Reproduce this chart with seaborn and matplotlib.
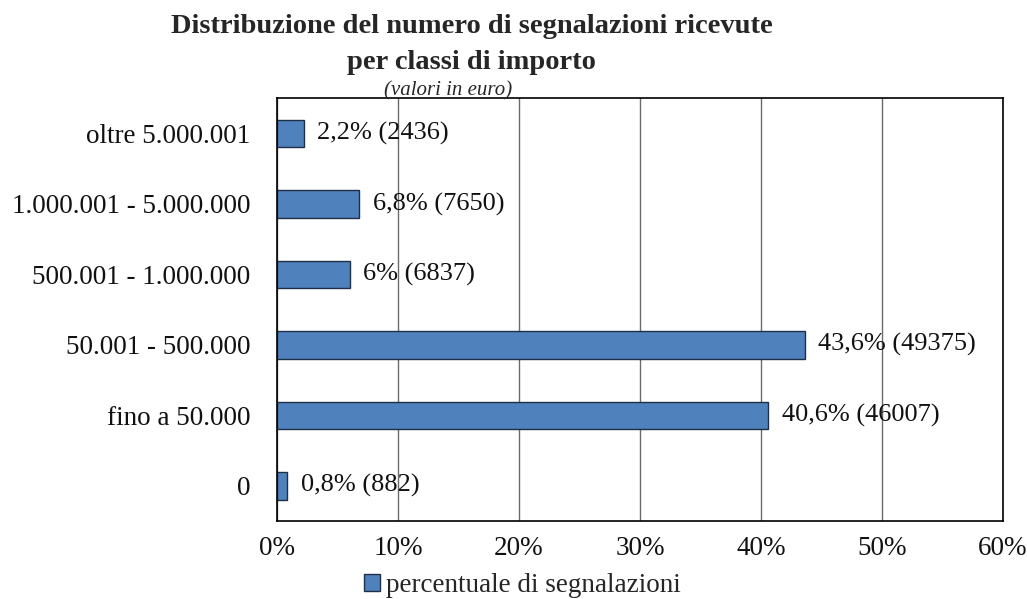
import matplotlib
matplotlib.use("Agg")
import matplotlib.pyplot as plt
import pandas as pd
import seaborn as sns
from matplotlib.ticker import FuncFormatter

# Data (top to bottom).
classes = [
    "oltre 5.000.001",
    "1.000.001 - 5.000.000",
    "500.001 - 1.000.000",
    "50.001 - 500.000",
    "fino a 50.000",
    "0",
]
percent = [2.2, 6.8, 6.0, 43.6, 40.6, 0.8]
counts = [2436, 7650, 6837, 49375, 46007, 882]
pct_labels = ["2,2%", "6,8%", "6%", "43,6%", "40,6%", "0,8%"]

df = pd.DataFrame({"classe": classes, "perc": percent})

sns.set_theme(style="white")
plt.rcParams["font.family"] = ["Liberation Serif", "DejaVu Serif"]

fig = plt.figure(figsize=(10.27, 5.99), dpi=100)
ax = fig.add_axes([0.2697, 0.130, 0.7069, 0.706])

sns.barplot(
    data=df, x="perc", y="classe", orient="h", ax=ax,
    color="#4F81BD", edgecolor="#1F2F45", linewidth=1.0,
    width=0.39, saturation=1, label="percentuale di segnalazioni",
)

# data labels to the right of each bar
for i, (p, c, lab) in enumerate(zip(percent, counts, pct_labels)):
    ax.annotate(f"{lab} ({c})", (p, i), xytext=(10, 0), textcoords="offset points",
                va="center", ha="left", fontsize=19, color="#111111")

ax.set_xlim(0, 60)
ax.set_xticks(range(0, 61, 10))
ax.xaxis.set_major_formatter(FuncFormatter(lambda v, _: f"{int(v)}%"))
ax.grid(axis="x", color="#6b6b6b", linewidth=1.0)
ax.set_axisbelow(True)
ax.set_xlabel("")
ax.set_ylabel("")
for s in ax.spines.values():
    s.set_color("black")
    s.set_linewidth(1.2)
ax.tick_params(axis="x", labelsize=19.5, pad=11, length=0, colors="#111111")
ax.tick_params(axis="y", labelsize=19.5, pad=19, length=0, colors="#111111")

fig.text(0.459, 0.955, "Distribuzione del numero di segnalazioni ricevute",
         ha="center", va="center", fontsize=20.5, fontweight="bold")
fig.text(0.459, 0.895, "per classi di importo",
         ha="center", va="center", fontsize=20.5, fontweight="bold")
fig.text(0.436, 0.849, "(valori in euro)", ha="center", va="center",
         fontsize=15, style="italic")

ax.legend(loc="center left", bbox_to_anchor=(0.12, -0.152), frameon=False,
          fontsize=19.5, handlelength=0.6, handleheight=0.6, handletextpad=0.2,
          borderaxespad=0, borderpad=0)

fig.savefig("out.png", dpi=100)
